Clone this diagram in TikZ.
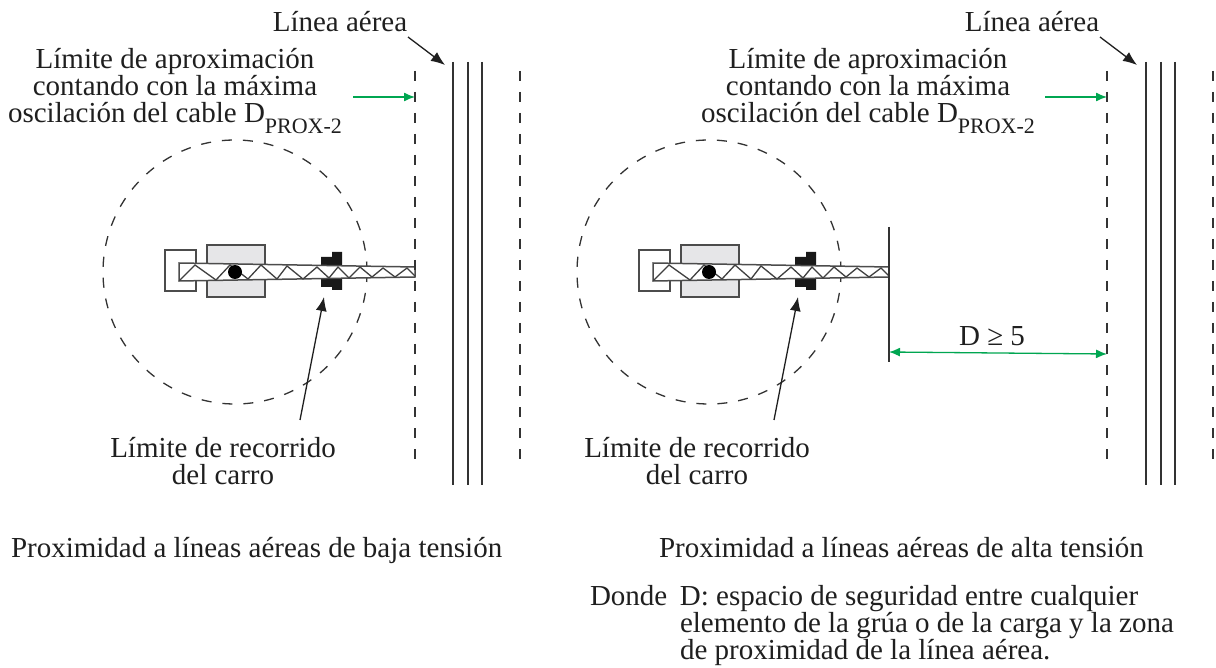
\documentclass[tikz,border=0pt]{standalone}
\usepackage{fontspec}
\setmainfont{Liberation Serif}
\usetikzlibrary{arrows.meta}
\definecolor{arrowgreen}{HTML}{00A651}
\definecolor{boxgray}{HTML}{E6E6E8}
\definecolor{inkline}{HTML}{333333}
\newcommand{\proxsub}{\raisebox{-11pt}{\fontsize{22}{22}\selectfont PROX-2}}
\tikzset{
  every node/.style={inner sep=0pt,outer sep=0pt,text=black!88},
  lab/.style={align=center,font=\fontsize{29}{27}\selectfont},
  labl/.style={align=left,font=\fontsize{29}{26}\selectfont},
  dashln/.style={draw=inkline,line width=1.3pt,dash pattern=on 10pt off 11pt},
  solidln/.style={draw=inkline,line width=1.4pt},
  blackarrow/.style={draw=black!88,line width=1.3pt,-{Latex[length=14pt,width=11pt]}},
  greenarrow/.style={draw=arrowgreen,line width=1.3pt,-{Latex[length=11pt,width=9pt]}},
  greenboth/.style={draw=arrowgreen,line width=1.3pt,{Latex[length=11pt,width=9pt]}-{Latex[length=11pt,width=9pt]}},
  partbox/.style={draw=black!70,line width=1.3pt},
  crane/.pic={
    \draw[partbox,fill=white] (165,250) rectangle (196,291);
    \draw[partbox,fill=boxgray] (207,245) rectangle (265,297);
    \fill[black!90] (321,257) -- (332,257) -- (332,252) -- (342,252) -- (342,266) -- (321,265) -- cycle;
    \fill[black!90] (321,279) -- (342,278) -- (342,290) -- (332,290) -- (332,287) -- (321,287) -- cycle;
    \draw[partbox,fill=white,line width=1.5pt] (179,263) -- (415,267) -- (415,277) -- (179,281) -- cycle;
    \draw[draw=black!75,line width=1.3pt] (179,281) -- (195,265) -- (216,280) -- (230,265) -- (248,279) -- (261,265) -- (277,279) -- (287,266) -- (303,279) -- (317,267) -- (329,278) -- (338,267) -- (349,278) -- (360,267) -- (372,277) -- (383,268) -- (395,277) -- (407,268) -- (415,276);
    \fill[black] (235,272) circle (7);
  },
}
\begin{document}
\begin{tikzpicture}[x=1pt,y=-1pt]
\useasboundingbox (0,0) rectangle (1216,668);
\fill[white] (0,0) rectangle (1216,668);

% left panel
\draw[dashln] (235,272) ++(132,0) arc[start angle=0,end angle=360,radius=132];
\pic {crane};
\coordinate (ltop) at (415,71); \coordinate (lbot) at (415,466);
\draw[dashln] (ltop) -- (lbot);
\draw[solidln] (453,62) -- (453,485);
\draw[solidln] (468,62) -- (468,485);
\draw[solidln] (482,62) -- (482,485);
\draw[dashln] (520,71) -- (520,466);
\node[lab,anchor=base] (laerealeft) at (340,32) {Línea aérea};
\coordinate (lcablesA) at (445,65);
\draw[blackarrow] (408,37) -- (lcablesA);
\node[lab] (lproxleft) at (175,91) {Límite de aproximación\\contando con la máxima\\oscilación del cable D\proxsub};
\coordinate (lgA) at (353,97); \coordinate (lgB) at (415,97);
\draw[greenarrow] (lgA) -- (lgB);
\node[lab] (lrecleft) at (223,461) {Límite de recorrido\\del carro};
\coordinate (ltipA) at (324,297);
\draw[blackarrow] (300,420) -- (ltipA);
\node[lab,anchor=base west] (captleft) at (11,557) {Proximidad a líneas aéreas de baja tensión};

% right panel
\draw[dashln] (709,272) ++(132,0) arc[start angle=0,end angle=360,radius=132];
\begin{scope}[xshift=474pt]
\pic {crane};
\end{scope}
\draw[solidln] (889,227) -- (889,362);
\coordinate (rtop) at (1107,71); \coordinate (rbot) at (1107,466);
\draw[dashln] (rtop) -- (rbot);
\draw[solidln] (1146,62) -- (1146,485);
\draw[solidln] (1161,62) -- (1161,485);
\draw[solidln] (1175,62) -- (1175,485);
\draw[dashln] (1213,71) -- (1213,466);
\node[lab,anchor=base] (laerearight) at (1032,32) {Línea aérea};
\coordinate (rcablesA) at (1137,65);
\draw[blackarrow] (1100,37) -- (rcablesA);
\node[lab] (lproxright) at (868,91) {Límite de aproximación\\contando con la máxima\\oscilación del cable D\proxsub};
\coordinate (rgA) at (1045,97); \coordinate (rgB) at (1107,97);
\draw[greenarrow] (rgA) -- (rgB);
\coordinate (dA) at (889,352); \coordinate (dB) at (1107,354);
\draw[greenboth] (dA) -- (dB);
\node[lab,anchor=base] (dlabel) at (992,345) {D ≥ 5};
\node[lab] (lrecright) at (697,461) {Límite de recorrido\\del carro};
\coordinate (rtipA) at (798,297);
\draw[blackarrow] (774,420) -- (rtipA);
\node[lab,anchor=base west] (captright) at (659,557) {Proximidad a líneas aéreas de alta tensión};
\node[labl,anchor=north west] (donde) at (590,585) {\makebox[90pt][l]{Donde}D: espacio de seguridad entre cualquier\\
\hspace*{90pt}elemento de la grúa o de la carga y la zona\\
\hspace*{90pt}de proximidad de la línea aérea.};
\end{tikzpicture}
\end{document}
